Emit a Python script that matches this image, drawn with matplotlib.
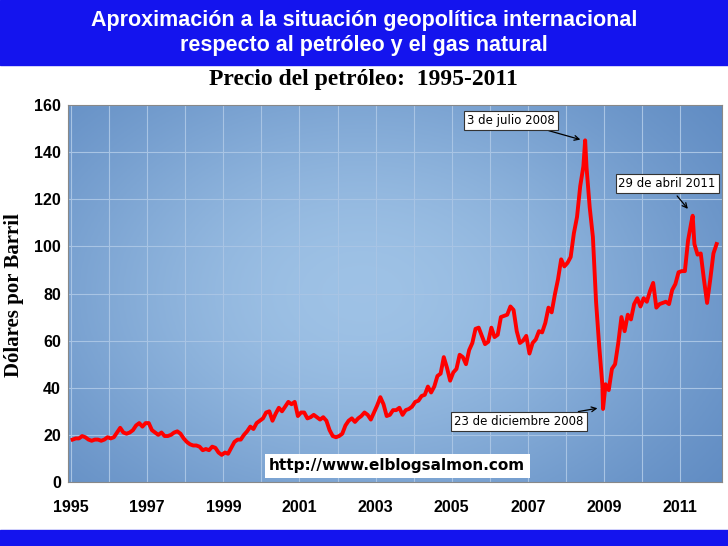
import numpy as np
import matplotlib.pyplot as plt
from matplotlib.patches import Rectangle

# monthly averages 1995-2011, plus daily extremes
years = list(range(1995, 2012))
monthly = [
    [18, 18.5, 18.5, 19.5, 19, 18, 17.5, 18, 18, 17.5, 18, 19],
    [18.5, 19, 21, 23, 21, 20.5, 21, 22, 24, 25, 23.5, 25],
    [25, 22, 21, 20, 21, 19.5, 19.5, 20, 21, 21.5, 20.5, 18.5],
    [17, 16, 15.5, 15.5, 15, 13.5, 14, 13.5, 15, 14.5, 12.5, 11.5],
    [12.5, 12, 14.5, 17, 18, 18, 20, 21.5, 23.5, 22.5, 25, 26],
    [27, 29.5, 30, 26, 29, 31.5, 30, 32, 34, 33, 34, 28],
    [29.5, 29.5, 27, 27.5, 28.5, 27.5, 26.5, 27.5, 26, 22, 19.5, 19],
    [19.5, 20.5, 24, 26, 27, 25.5, 27, 28, 29.5, 28.5, 26.5, 29.5],
    [32.5, 36, 33, 28, 28.5, 30.5, 30.5, 31.5, 28.5, 30.5, 31, 32],
    [34, 34.5, 36.5, 37, 40.5, 38, 40.5, 45, 46, 53, 48.5, 43],
    [46.5, 48, 54, 53, 50, 56, 59, 65, 65.5, 62, 58.5, 59.5],
    [65.5, 61.5, 62.5, 70, 70.5, 71, 74.5, 73, 64, 59, 60, 62],
    [54.5, 59, 60.5, 64, 63.5, 67.5, 74, 72, 79.5, 86, 94.5, 91.5],
    [93, 95.5, 105.5, 112.5, 125.5, 134, 133.5, 116.5, 104, 76.5, 57.5, 41],
    [41.5, 39, 48, 50, 59, 70, 64, 71, 69, 75.5, 78, 74.5],
    [78, 76.5, 81, 84.5, 74, 75.5, 76, 76.5, 75.5, 81.5, 84, 89],
    [89.5, 89.5, 102.5, 110, 101, 96.5, 97, 86, 76, 86, 97, 101],
]
extreme_t = [2008.505, 2008.975, 2011.33]
extreme_v = [145, 31, 113]

t = []
v = []
for y, vals in zip(years, monthly):
    for m, val in enumerate(vals):
        t.append(y + (m + 0.5) / 12)
        v.append(val)
t += extreme_t
v += extreme_v
order = np.argsort(t)
t = np.array(t)[order]
v = np.array(v)[order]

fig = plt.figure(figsize=(7.28, 5.46), dpi=100)

# banner and footer
fig.patches.append(Rectangle((0, 1 - 65 / 546), 1, 65 / 546, transform=fig.transFigure,
                             color='#1414EE', zorder=0))
fig.patches.append(Rectangle((0, 0), 1, 16 / 546, transform=fig.transFigure,
                             color='#1414EE', zorder=0))
fig.text(0.5, 1 - 33 / 546, 'Aproximación a la situación geopolítica internacional\nrespecto al petróleo y el gas natural',
         ha='center', va='center', color='white', fontsize=15.5, fontweight='bold',
         family='Liberation Sans', linespacing=1.2)
fig.text(363 / 728, 1 - 80 / 546, 'Precio del petróleo:  1995-2011', ha='center', va='center',
         fontsize=17, fontweight='bold', family='Liberation Serif')
fig.text(14 / 728, 1 - 295 / 546, 'Dólares por Barril', rotation=90, ha='center', va='center',
         fontsize=15, fontweight='bold', family='Liberation Serif')

ax = fig.add_axes([68 / 728, 64 / 546, 654 / 728, 377 / 546])
x0, x1 = 1994.92, 2012.1
ax.set_xlim(x0, x1)
ax.set_ylim(0, 160)

# blue gradient background
gx = np.linspace(0, 1, 200)
gy = np.linspace(0, 1, 200)
GX, GY = np.meshgrid(gx, gy)
shade = 0.55 + 0.35 * np.exp(-((GX - 0.45) ** 2 / 0.35 + (GY - 0.5) ** 2 / 0.5))
c_dark = np.array([0.30, 0.48, 0.72])
c_light = np.array([0.62, 0.76, 0.90])
img = c_dark + (c_light - c_dark) * ((shade - 0.55) / 0.35)[..., None]
ax.imshow(img, extent=[x0, x1, 0, 160], aspect='auto', origin='lower', zorder=0)

ax.set_xticks(range(1995, 2012, 2))
ax.set_yticks(range(0, 161, 20))
for yr in range(1995, 2012):
    ax.axvline(yr, color='#A8C4E4', lw=0.8, zorder=1)
for yy in range(20, 161, 20):
    ax.axhline(yy, color='#A8C4E4', lw=0.8, zorder=1)

ax.plot(t, v, color='#FF0000', lw=2.8, zorder=3)

for lbl in ax.get_xticklabels() + ax.get_yticklabels():
    lbl.set_fontweight('bold')
    lbl.set_family('Liberation Sans')
    lbl.set_fontsize(11.5)
ax.tick_params(length=0, pad=5)
ax.tick_params(axis='x', pad=13)
for s in ax.spines.values():
    s.set_color('#888888')

box = dict(boxstyle='square,pad=0.25', fc='white', ec='#333333', lw=0.8)
arrow = dict(arrowstyle='->', color='black', lw=0.9)
ax.annotate('3 de julio 2008', xy=(2008.45, 145), xytext=(2006.56, 153.6), ha='center', va='center',
            fontsize=8.5, bbox=box, arrowprops=arrow, zorder=5)
ax.annotate('29 de abril 2011', xy=(2011.25, 115), xytext=(2010.66, 126.5), ha='center', va='center',
            fontsize=8.5, bbox=box, arrowprops=arrow, zorder=5)
ax.annotate('23 de diciembre 2008', xy=(2008.9, 31.5), xytext=(2006.77, 25.5), ha='center', va='center',
            fontsize=8.5, bbox=box, arrowprops=arrow, zorder=5)
ax.text(2003.57, 6.8, 'http://www.elblogsalmon.com', ha='center', va='center', fontsize=11,
        fontweight='bold', bbox=dict(boxstyle='square,pad=0.3', fc='white', ec='none'), zorder=5)

fig.savefig('out.png', dpi=100)
